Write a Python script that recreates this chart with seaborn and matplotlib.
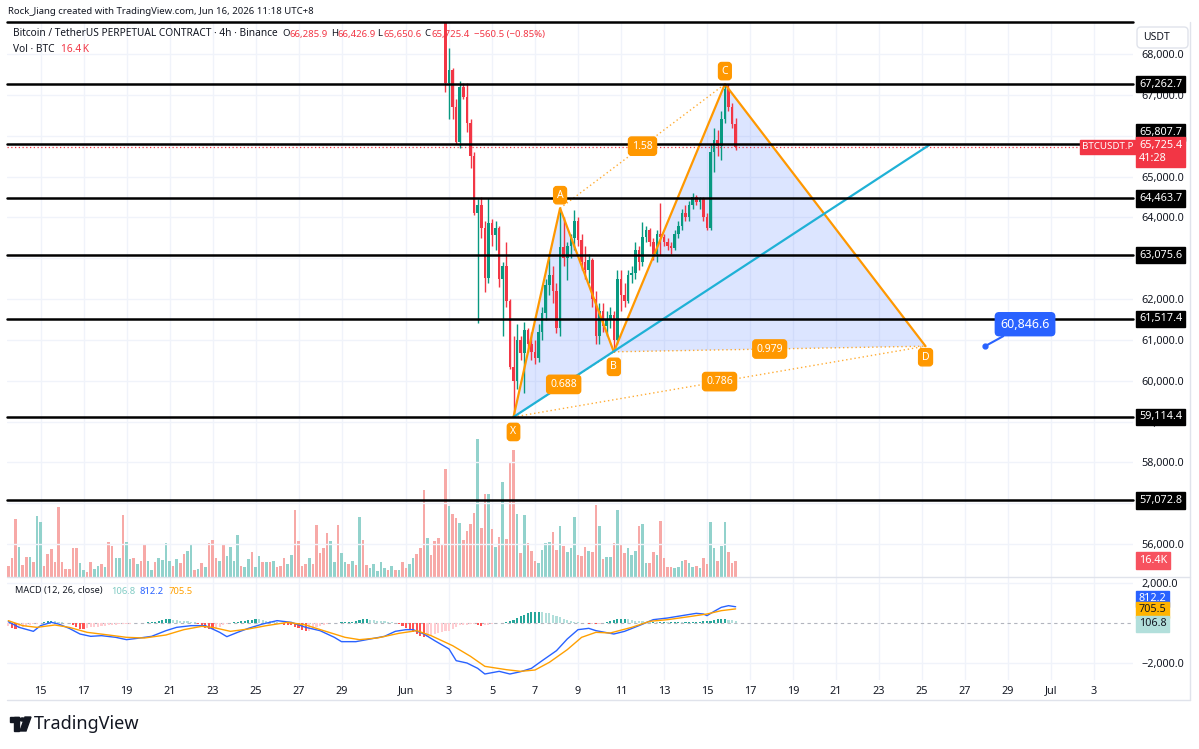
import matplotlib
matplotlib.use("Agg")
import matplotlib.pyplot as plt
import matplotlib.transforms as mtrans
from matplotlib.patches import Polygon, Rectangle, Circle, FancyBboxPatch
from matplotlib.lines import Line2D
import seaborn as sns
import numpy as np

sns.set_style("white")
plt.rcParams['font.family'] = ['Noto Sans', 'DejaVu Sans']

# ---------------- data ----------------
# 4h bars, bar 0 = May 13 12:00, last bar (203) = Jun 16 08:00
first_candle = 122
opens = [69400, 67290, 67600, 66700, 65850, 67200, 66950, 66300, 65500, 64110,
         64300, 63750, 62520, 63860, 63570, 63750, 62500, 62800, 61950, 60340,
         60000, 61000, 60680, 61240, 60900, 60700, 60550, 61200, 61650, 62350,
         62600, 62200, 61300, 63270, 63000, 63300, 63500, 63900, 63450, 62900,
         62700, 62950, 62000, 61100, 61700, 61350, 61500, 61600, 61000, 62500,
         62100, 61950, 62600, 62650, 63200, 62900, 63520, 63700, 63400, 63100,
         63600, 63520, 63400, 63300, 63250, 63600, 63800, 64100, 64000, 64300,
         64500, 64380, 64450, 64000, 63750, 65600, 65900, 65750, 66400, 67150,
         66700, 66285.9]
highs = [69600, 68150, 67650, 66900, 67350, 67300, 67300, 66400, 65600, 64450,
         64500, 63900, 64470, 63950, 63900, 63800, 62900, 63400, 62000, 61100,
         61400, 61100, 61440, 61300, 61200, 61000, 61400, 61800, 62500, 63000,
         62800, 62400, 64225, 64000, 63400, 63600, 64180, 64000, 63600, 63300,
         63100, 63000, 62200, 61900, 61900, 61700, 61800, 61700, 62700, 62700,
         62400, 62700, 62800, 63400, 63300, 63890, 63800, 63750, 63500, 63700,
         64350, 63600, 63500, 63400, 63700, 63900, 64200, 64300, 64400, 64600,
         64550, 64500, 64500, 64100, 65800, 66200, 66150, 66600, 67262.7, 67262.7,
         66800, 66426.9]
lows = [67070, 66400, 66400, 65800, 65700, 66900, 66100, 65200, 64050, 61420,
        63500, 62180, 62400, 63300, 63200, 62300, 61100, 61800, 60300, 59114.4,
        59800, 60500, 59700, 60700, 60500, 60400, 60450, 61000, 61500, 62100,
        61900, 61170, 61100, 62800, 62470, 63000, 63200, 63300, 62700, 62500,
        62400, 61800, 60900, 60900, 61200, 61100, 61300, 60709, 60900, 61700,
        61800, 61900, 62400, 62500, 62700, 62800, 63400, 63300, 62950, 62900,
        63080, 63300, 63200, 63100, 63200, 63500, 63700, 63900, 63900, 64200,
        64300, 64200, 63900, 63690, 63700, 65100, 65500, 65400, 66300, 66600,
        66200, 65650.6]
closes = [67290, 67600, 66700, 65850, 67200, 66950, 66300, 65500, 64110, 64300,
          63750, 62520, 63860, 63570, 63750, 62500, 62800, 61950, 60340, 60000,
          61000, 60680, 61240, 60900, 60700, 60550, 61200, 61650, 62350, 62600,
          62200, 61300, 63270, 63000, 63300, 63500, 63900, 63450, 62900, 62700,
          62950, 62000, 61100, 61700, 61350, 61500, 61600, 61000, 62500, 62100,
          61950, 62600, 62650, 63200, 62900, 63520, 63700, 63400, 63100, 63600,
          63520, 63400, 63300, 63250, 63600, 63800, 64100, 64000, 64300, 64500,
          64380, 64450, 64000, 63750, 65600, 65900, 65750, 66400, 67150, 66700,
          66285.9, 65725.4]

# volume in K BTC, one per bar
volumes = [11, 19, 58, 30, 12, 20, 20, 15, 61, 55, 11, 23, 28, 15, 70, 15, 8, 8, 29, 29,
           14, 7, 5, 15, 8, 11, 13, 10, 35, 31, 19, 19, 62, 35, 18, 19, 13, 16, 32, 16,
           7, 15, 19, 17, 34, 16, 11, 18, 14, 23, 26, 33, 7, 8, 14, 10, 34, 37, 19, 16,
           32, 21, 30, 16, 42, 11, 10, 18, 25, 10, 21, 15, 15, 15, 16, 10, 11, 19, 13, 22,
           67, 36, 11, 13, 19, 13, 52, 24, 29, 44, 36, 15, 52, 24, 15, 13, 16, 12, 60, 37,
           12, 9, 13, 6, 15, 9, 7, 11, 7, 7, 15, 9, 13, 19, 23, 29, 87, 39, 22, 36,
           39, 32, 108, 71, 63, 59, 54, 37, 46, 53, 64, 138, 49, 83, 83, 48, 30, 40, 95, 38,
           115, 127, 63, 24, 62, 34, 26, 16, 14, 27, 34, 35, 45, 27, 51, 31, 25, 29, 60, 22,
           21, 30, 26, 25, 72, 51, 18, 20, 20, 34, 67, 32, 24, 29, 22, 26, 51, 53, 14, 14,
           25, 22, 56, 19, 10, 10, 9, 10, 16, 17, 14, 10, 11, 9, 19, 13, 55, 29, 16, 31,
           55, 25, 14, 16.4]
vol_dir = ("rrrgrrgrgg" "rrrrrrrrrr" "ggrrggrgrr" "ggrggrgrrg" "grggggrgrr"
           "ggrgrgrrrg" "rggggrggrg" "grgrgrrrgg" "rrrrgrrrrr" "ggrggrgrgr"
           "rgggggrgrg" "rrggrrrgrr" "rrrg" "rrgrrrrgrr" "grgrgrrrgr"
           "grrrggggrr" "grgggrrrgr" "rgrggrgrrg" "ggrggrrgrr" "rrgggrggrg"
           "rrggrggrrr")

# MACD histogram, one per bar
macd_hist = [-150, -250, -300, -250,
             -200, -150, -100, -60, -30, 20, 60,
             110, 120, 90,
             60, 40, 20, -20, -100,
             -200, -280, -300, -260, -220,
             -200, -180, -160, -140, -120, -100, -80, -60, -50, -40,
             -30, -20, -10, 10, 20, 30, 30,
             60, 100, 150, 180, 190, 170, 140,
             120, 100, 80, 60, 30, -50,
             -150, -250, -300, -320, -250, -180,
             -120, -60, -20,
             30, 60, 90, 110, 130, 160, 190,
             180, 150, 120, 90, 60,
             30, -30, -80, -100, -120,
             -180, -260, -350, -400, -380, -300,
             -220, -150, -80, -40, -20,
             10, 20, 30, 40, 50, 60,
             100, 150, 180, 190, 170,
             150, 120, 100, 80, 60,
             40, 20, -60, -150, -250,
             -350, -450, -550, -650, -720, -700,
             -600, -550, -500, -460, -420, -380, -300, -200,
             -120, -100, -80, -60, -50,
             -100, -150, -120, -80,
             -40, -10, 10, 20, 40,
             80, 150, 250, 330, 400, 480, 530, 550,
             560, 550, 520, 480, 420,
             350, 280, 220, 160, 100, 60,
             30, 10, -20, -40, -30,
             -60, -40, -10,
             50, 100, 150, 180, 200,
             210, 180, 150, 120, 100,
             80, 70, 60, 60, 50, 50, 50,
             40, 40, 40, 40, 30, 30, 30,
             30, 40, 60, 80, 100, 120, 150,
             180, 200, 210, 170, 140, 106.8]

macd_bar = [0, 3, 7, 9, 12, 14, 17, 20, 23, 26, 30, 33, 36, 40, 44, 47, 51, 55, 59, 61,
            64, 67, 71, 75, 79, 83, 87, 91, 93, 97, 101, 105, 108, 111, 113, 116, 119, 123,
            125, 128, 131, 133, 137, 140, 143, 146, 149, 153, 156, 159, 162, 164, 169, 172,
            176, 180, 184, 188, 192, 194, 195, 197, 199, 201, 203]
macd_val = [67, -217, -417, -133, 33, -50, -267, -550, -667, -633, -717, -833, -767, -667,
            -383, -217, -133, -133, -467, -683, -467, -267, -50, 117, 33, -217, -383, -717,
            -933, -933, -800, -667, -417, -333, -333, -550, -883, -1300, -1883, -2000,
            -2267, -2550, -2417, -2550, -2433, -2267, -1883, -1383, -800, -333, -267, -383,
            -550, -417, -133, 167, 250, 367, 483, 450, 367, 583, 783, 867, 812.2]
signal_bar = [0, 4, 8, 13, 17, 22, 28, 33, 38, 44, 49, 54, 57, 62, 67, 72, 78, 83, 88, 94,
              98, 103, 109, 114, 118, 124, 129, 133, 139, 143, 147, 151, 156, 160, 164,
              168, 174, 179, 184, 190, 195, 199, 203]
signal_val = [117, -133, -217, -100, -217, -467, -600, -717, -750, -600, -333, -167, -217,
              -417, -300, -133, 33, -100, -383, -717, -833, -750, -517, -383, -633, -1133,
              -1667, -2167, -2333, -2417, -2350, -1967, -1333, -717, -467, -500, -217, 83,
              167, 317, 450, 617, 705.5]

# horizontal line drawings
h_levels = [68780, 67262.7, 65807.7, 64463.7, 63075.6, 61517.4, 59114.4, 57072.8]
h_tagged = [67262.7, 65807.7, 64463.7, 63075.6, 61517.4, 59114.4, 57072.8]
h_tag_shift = [0, 11, 0, 0, 0, 0, 0]
last_price = 65725.4

# XABCD pattern
pat_names = ['X', 'A', 'B', 'C', 'D']
pat_bar = [141, 154, 169, 200, 256]
pat_price = [59114.4, 64225, 60709, 67262.7, 60846.6]
ratio_text = ['0.688', '1.58', '0.979', '0.786']
ratio_pairs = [(0, 2), (1, 3), (2, 4), (0, 4)]

# cyan trend line
trend_bar = [141, 257]
trend_price = [59114.4, 65770]

note_bar, note_price = 272.6, 60846.6

# date axis (days counted from May 1)
tick_days = [15, 17, 19, 21, 23, 25, 27, 29, 32, 34, 36, 38, 40, 42, 44, 46, 48, 50,
             52, 54, 56, 58, 60, 62, 64]
tick_labels = ['15', '17', '19', '21', '23', '25', '27', '29', 'Jun', '3', '5', '7', '9',
               '11', '13', '15', '17', '19', '21', '23', '25', '27', '29', 'Jul', '3']
grid_prices = list(range(56000, 69000, 1000))
# the ones not hidden behind a line tag
label_prices = [56000, 58000, 59000, 60000, 61000, 62000, 64000, 65000, 67000, 68000]

# ---------------- layout ----------------
W, H = 1199, 749
fig = plt.figure(figsize=(W / 100, H / 100), dpi=100)
fig.patch.set_facecolor('white')


def fx(px):
    return px / W


def fy(py):
    return 1 - py / H


X_LEFT, X_RIGHT = 7, 1133
MAIN_TOP, MAIN_BOT, MACD_BOT = 22, 577, 680
rect_main = [fx(X_LEFT), fy(MAIN_BOT), (X_RIGHT - X_LEFT) / W, (MAIN_BOT - MAIN_TOP) / H]
axv = fig.add_axes(rect_main)
ax = fig.add_axes(rect_main, sharex=axv)
axm = fig.add_axes([fx(X_LEFT), fy(MACD_BOT), (X_RIGHT - X_LEFT) / W, (MACD_BOT - MAIN_BOT) / H],
                   sharex=axv)
ax.patch.set_alpha(0)

bar0_px, bar_px = 8.3, 3.583
axv.set_xlim((X_LEFT - bar0_px) / bar_px, (X_RIGHT - bar0_px) / bar_px)
ax.set_ylim(55197, 68783)
axv.set_ylim(0, 555)
axm.set_ylim(-2850, 2300)

GRID = '#f0f3fa'
TXT = '#131722'
UP, DOWN = '#089981', '#f23645'
tick_x = [(d - 13.5) * 6 for d in tick_days]

for a in (ax, axv, axm):
    for s in a.spines.values():
        s.set_visible(False)
    a.tick_params(length=0)
axv.set_yticks([])
axv.tick_params(labelbottom=False)
ax.tick_params(labelbottom=False)
for t in tick_x:
    axv.axvline(t, color=GRID, lw=1, zorder=0)
    axm.axvline(t, color=GRID, lw=1, zorder=0)
for p in grid_prices:
    ax.axhline(p, color=GRID, lw=1, zorder=0)

# volume
vx = np.arange(len(volumes))
vcol = ['#92d2cc' if c == 'g' else '#f7a9a7' for c in vol_dir]
axv.bar(vx, volumes, width=0.72, color=vcol, linewidth=0)

# candles
o, h, l, c = map(np.array, (opens, highs, lows, closes))
cx = np.arange(first_candle, first_candle + len(o))
ccol = [UP if cc >= oo else DOWN for oo, cc in zip(o, c)]
ax.vlines(cx, l, h, colors=ccol, lw=1, zorder=3)
ax.bar(cx, np.maximum(np.abs(c - o), 25), bottom=np.minimum(o, c), width=0.72,
       color=ccol, linewidth=0, zorder=3)

# pattern fill + lines
fill = '#2962ff'
for tri in [(0, 1, 2), (2, 3, 4)]:
    ax.add_patch(Polygon([(pat_bar[k], pat_price[k]) for k in tri], closed=True,
                         fc=fill, alpha=0.16, ec='none', zorder=2))
ORANGE = '#ff9800'
ax.plot(pat_bar, pat_price, color=ORANGE, lw=1.6, zorder=5)
for (a_, b_) in ratio_pairs:
    ax.plot([pat_bar[a_], pat_bar[b_]], [pat_price[a_], pat_price[b_]], color=ORANGE,
            lw=1, ls=(0, (1, 2)), zorder=4, alpha=0.8)
ax.plot(trend_bar, trend_price, color='#1fb1d6', lw=1.6, zorder=5)

for (a_, b_), t in zip(ratio_pairs, ratio_text):
    mx = (pat_bar[a_] + pat_bar[b_]) / 2
    my = (pat_price[a_] + pat_price[b_]) / 2
    ax.text(mx, my, t, color='white', fontsize=7.5, ha='center', va='center', zorder=7,
            bbox=dict(boxstyle='round,pad=0.35,rounding_size=0.3', fc=ORANGE, ec=ORANGE))
offs = [-15, 13, -15, 13, -11]
for name, bx, bp, off in zip(pat_names, pat_bar, pat_price, offs):
    ax.annotate(name, (bx, bp), xytext=(0, off), textcoords='offset pixels', color='white',
                fontsize=7.5, ha='center', va='center', zorder=7,
                bbox=dict(boxstyle='round,pad=0.3,rounding_size=0.3', fc=ORANGE, ec=ORANGE))

# horizontal lines
for lv in h_levels:
    ax.axhline(lv, color='#000000', lw=1.8, zorder=6, clip_on=False)
ax.axhline(last_price, color=DOWN, lw=0.9, ls=(0, (1, 2)), zorder=4)

# price note
ax.plot([note_bar], [note_price], 'o', color='#2962ff', ms=3.5, zorder=8)
ax.annotate('60,846.6', (note_bar, note_price), xytext=(40, 22), textcoords='offset pixels',
            ha='center', va='center', color='white', fontsize=9, fontweight='bold', zorder=8,
            bbox=dict(boxstyle='round,pad=0.4,rounding_size=0.3', fc='#2962ff', ec='#2962ff'),
            arrowprops=dict(arrowstyle='-', color='#2962ff', lw=1.5, shrinkA=0, shrinkB=0))

# macd pane
hcol = []
prev = macd_hist[0]
for v in macd_hist:
    if v >= 0:
        hcol.append('#26a69a' if v >= prev else '#b2dfdb')
    else:
        hcol.append('#ff5252' if v < prev else '#ffcdd2')
    prev = v
axm.bar(np.arange(len(macd_hist)), macd_hist, width=0.6, color=hcol, linewidth=0, zorder=2)
axm.axhline(0, color='#b2b5be', lw=0.8, ls=(0, (3, 3)), zorder=1)
for g in (-2000, 2000):
    axm.axhline(g, color=GRID, lw=1, zorder=0)
sns.lineplot(x=macd_bar, y=macd_val, ax=axm, color='#2962ff', lw=1, zorder=3)
sns.lineplot(x=signal_bar, y=signal_val, ax=axm, color='#ffa000', lw=1, zorder=3)

# axes ticks
ax.yaxis.tick_right()
ax.set_yticks(label_prices)
ax.set_yticklabels([f'{p:,.1f}' for p in label_prices])
ax.tick_params(axis='y', labelsize=7.8, labelcolor=TXT, pad=6)
axm.yaxis.tick_right()
axm.set_yticks([-2000, 2000])
axm.set_yticklabels(['\u22122,000.0', '2,000.0'])
axm.tick_params(axis='y', labelsize=7.8, labelcolor=TXT, pad=6)
axm.set_xticks(tick_x)
axm.set_xticklabels(tick_labels)
axm.tick_params(axis='x', labelsize=7.8, labelcolor=TXT, pad=4)
axm.set_xlabel('')
axm.set_ylabel('')

# right-hand tags
tr = mtrans.blended_transform_factory(ax.transAxes, ax.transData)
tag_x = (1139 - X_LEFT) / (X_RIGHT - X_LEFT)


def tag(axis, y, text, fc, trans, tc='white', fs=7.8, x=tag_x, dy=0, pad=0.25):
    axis.annotate(text, (x, y), xycoords=trans, xytext=(0, dy), textcoords='offset pixels',
                  color=tc, fontsize=fs, ha='left', va='center', zorder=9,
                  annotation_clip=False,
                  bbox=dict(boxstyle=f'square,pad={pad}', fc=fc, ec=fc))


for lv, sh in zip(h_tagged, h_tag_shift):
    tag(ax, lv, f'{lv:,.1f}', '#000000', tr, dy=sh)
tag(ax, last_price, '65,725.4\n41:28', DOWN, tr, dy=-5, pad=0.3)
tag(ax, last_price, 'BTCUSDT.P', DOWN, tr, fs=7.0, x=(1082 - X_LEFT) / (X_RIGHT - X_LEFT))
trv = mtrans.blended_transform_factory(axv.transAxes, axv.transData)
tag(axv, 16.4, '16.4K', '#f7525f', trv)
trm = mtrans.blended_transform_factory(axm.transAxes, axm.transData)
tag(axm, 812.2, '812.2', '#2962ff', trm, dy=8)
tag(axm, 705.5, '705.5', '#ffb300', trm, tc=TXT, dy=-1)
tag(axm, 106.8, '106.8', '#b2dfdb', trm, tc=TXT, dy=-3)

fig.add_artist(FancyBboxPatch((1137, H - 48), 51, 21, boxstyle='round,pad=0,rounding_size=4',
                              fc='white', ec='#e0e3eb', lw=1,
                              transform=mtrans.IdentityTransform()))
fig.text(fx(1143), fy(37.5), 'USDT', fontsize=7.5, color=TXT, va='center')

# legends / header
fig.text(fx(8), fy(12), 'Rock_Jiang created with TradingView.com, Jun 16, 2026 11:18 UTC+8',
         fontsize=6.9, color=TXT, va='center')
fig.text(fx(13), fy(34), 'Bitcoin / TetherUS PERPETUAL CONTRACT \u00b7 4h \u00b7 Binance',
         fontsize=7.3, color=TXT, va='center')
for px_, s_, col in [(282, 'O', TXT), (289, '66,285.9', DOWN), (331, 'H', TXT),
                     (338, '66,426.9', DOWN), (377, 'L', TXT), (383, '65,650.6', DOWN),
                     (424, 'C', TXT), (431, '65,725.4', DOWN),
                     (474, '\u2212560.5 (\u22120.85%)', DOWN)]:
    fig.text(fx(px_), fy(34), s_, fontsize=6.9, color=col, va='center')
fig.text(fx(13), fy(50), 'Vol \u00b7 BTC', fontsize=7.3, color=TXT, va='center')
fig.text(fx(61), fy(50), '16.4\u2009K', fontsize=7.3, color=DOWN, va='center')
fig.text(fx(15), fy(591), 'MACD (12, 26, close)', fontsize=6.6, color=TXT, va='center')
fig.text(fx(111), fy(591), '106.8', fontsize=6.8, color='#80cbc4', va='center')
fig.text(fx(140), fy(591), '812.2', fontsize=6.8, color='#2962ff', va='center')
fig.text(fx(169), fy(591), '705.5', fontsize=6.8, color='#ffa000', va='center')

# frame lines
for xs, ys in [((7, 1190), (577, 577)), ((7, 1190), (700, 700)), ((1190, 1190), (22, 700))]:
    fig.add_artist(Line2D([fx(xs[0]), fx(xs[1])], [fy(ys[0]), fy(ys[1])], color='#e0e3eb', lw=1))

# logo
fig.add_artist(Rectangle((fx(10), fy(722)), 9 / W, 5 / H, color=TXT))
fig.add_artist(Rectangle((fx(14), fy(731)), 5 / W, 14 / H, color=TXT))
fig.add_artist(Circle((fx(22.5), fy(719.5)), 2.5 / W, color=TXT))
fig.add_artist(Polygon([(fx(25), fy(717)), (fx(31), fy(717)), (fx(26), fy(731)), (fx(20), fy(731))],
                       closed=True, color=TXT))
fig.text(fx(34), fy(724), 'TradingView', fontsize=13, fontweight='bold', color=TXT, va='center')

assert len(vol_dir) == len(volumes) == len(macd_hist) == 204
fig.savefig('out.png', dpi=100)
